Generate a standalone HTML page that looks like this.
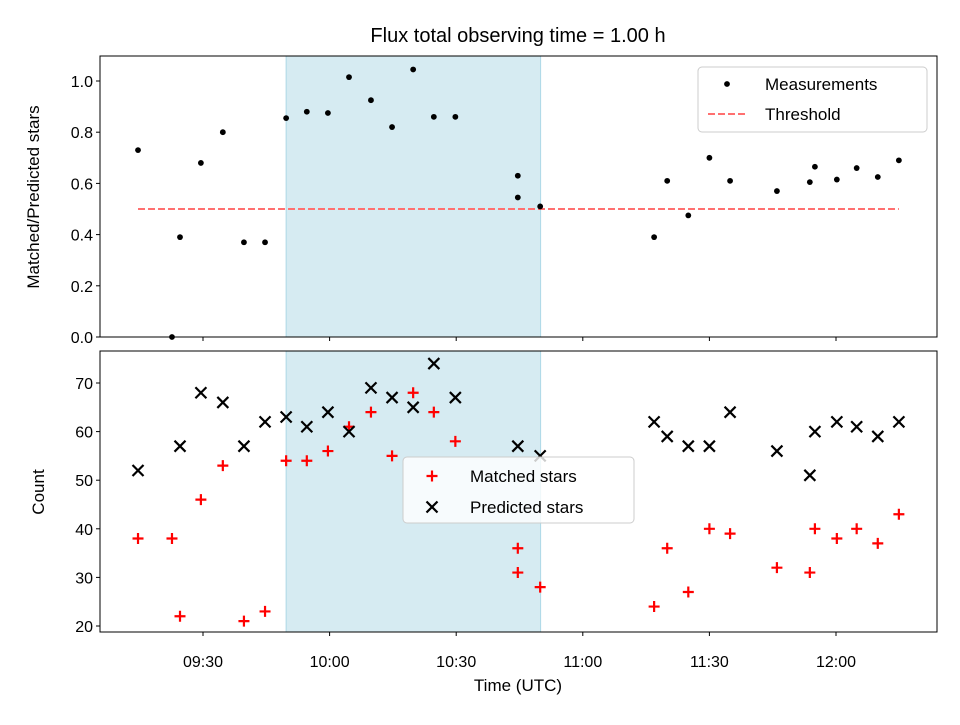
<!DOCTYPE html>
<html><head><meta charset="utf-8"><style>body{margin:0;background:#fff}svg{font-family:"Liberation Sans","DejaVu Sans",sans-serif}</style></head>
<body>
<svg id="c" width="960" height="720" xmlns="http://www.w3.org/2000/svg"></svg>
<script>
const ratioTimes=[14.6,22.65,24.55,29.5,34.7,39.7,44.7,49.7,54.6,59.6,64.6,69.8,74.8,79.8,84.7,89.8,104.6,104.6,109.9,136.9,140,145,150,154.9,166,173.8,175,180.2,184.9,189.9,194.9];
const ratioValues=[0.73,0.0,0.39,0.68,0.80,0.37,0.37,0.855,0.88,0.875,1.015,0.925,0.82,1.045,0.86,0.86,0.63,0.545,0.51,0.39,0.61,0.475,0.70,0.61,0.57,0.605,0.665,0.615,0.66,0.625,0.69];
const matchedTimes=[14.6,22.65,24.55,29.5,34.7,39.7,44.7,49.7,54.6,59.6,64.6,69.8,74.8,79.8,84.7,89.8,104.6,104.6,109.9,136.9,140,145,150,154.9,166,173.8,175,180.2,184.9,189.9,194.9];
const matchedValues=[38,38,22,46,53,21,23,54,54,56,61,64,55,68,64,58,36,31,28,24,36,27,40,39,32,31,40,38,40,37,43];
const predTimes=[14.6,24.55,29.5,34.7,39.7,44.7,49.7,54.6,59.6,64.6,69.8,74.8,79.8,84.7,89.8,104.6,109.9,136.9,140,145,150,154.9,166,173.8,175,180.2,184.9,189.9,194.9];
const predValues=[52,57,68,66,57,62,63,61,64,60,69,67,65,74,67,57,55,62,59,57,57,64,56,51,60,62,61,59,62];
const xTicks=[30,60,90,120,150,180];
const xTickLabels=["09:30","10:00","10:30","11:00","11:30","12:00"];
const topTicks=[0,0.2,0.4,0.6,0.8,1.0];
const botTicks=[20,30,40,50,60,70];
const threshold=0.5, shadeStart=49.7, shadeEnd=110;

const S=document.getElementById('c');
const NS='http://www.w3.org/2000/svg';
function el(t,a,txt){const e=document.createElementNS(NS,t);for(const k in a)e.setAttribute(k,a[k]);if(txt!==undefined)e.textContent=txt;S.appendChild(e);return e;}
const L=100,R=937;
const X=m=>203+(m-30)*4.22;
const Y1=v=>337-v*256;
const Y2=v=>626-(v-20)*4.86;
const panels=[[56,337],[351,632]];
for(const [t,b] of panels){
 const r=el('rect',{x:X(shadeStart),y:t,width:X(shadeEnd)-X(shadeStart),height:b-t,fill:'#add8e6','fill-opacity':0.5,stroke:'#add8e6'});
 
 
}
const th=el('line',{x1:X(ratioTimes[0]),x2:X(ratioTimes[ratioTimes.length-1]),y1:Y1(threshold),y2:Y1(threshold),stroke:'#ff7070','stroke-width':2,'stroke-dasharray':'7,3'});


ratioTimes.forEach((t,i)=>{const c=el('circle',{cx:X(t),cy:Y1(ratioValues[i]),r:2.9,fill:'#000'});

});
matchedTimes.forEach((t,i)=>{const x=X(t),y=Y2(matchedValues[i]);
const g=el('path',{d:`M${x-5.5},${y}H${x+5.5}M${x},${y-5.5}V${y+5.5}`,stroke:'red','stroke-width':2.2});

});
predTimes.forEach((t,i)=>{const x=X(t),y=Y2(predValues[i]);
const g=el('path',{d:`M${x-5.5},${y-5.5}L${x+5.5},${y+5.5}M${x-5.5},${y+5.5}L${x+5.5},${y-5.5}`,stroke:'#000','stroke-width':2.2});

});
for(const [t,b] of panels){
 const f=el('rect',{x:L,y:t,width:R-L,height:b-t,fill:'none',stroke:'#000','stroke-width':1});
 
 
 xTicks.forEach(m=>{el('line',{x1:X(m),x2:X(m),y1:b,y2:b+4,stroke:'#000'});});
}
xTicks.forEach((m,i)=>{const tx=el('text',{x:X(m),y:667,'font-size':16,'text-anchor':'middle'},xTickLabels[i]);

});
topTicks.forEach(v=>{el('line',{x1:L-4,x2:L,y1:Y1(v),y2:Y1(v),stroke:'#000'});
const tx=el('text',{x:L-7,y:Y1(v)+6,'font-size':16,'text-anchor':'end'},v.toFixed(1));

});
botTicks.forEach(v=>{el('line',{x1:L-4,x2:L,y1:Y2(v),y2:Y2(v),stroke:'#000'});
const tx=el('text',{x:L-7,y:Y2(v)+6,'font-size':16,'text-anchor':'end'},String(v));

});
let e;
e=el('text',{x:518,y:42,'font-size':20,'text-anchor':'middle'},'Flux total observing time = 1.00 h');


e=el('text',{x:518,y:691,'font-size':17,'text-anchor':'middle'},'Time (UTC)');


e=el('text',{x:0,y:0,'font-size':17,'text-anchor':'middle',transform:'translate(39,197) rotate(-90)'},'Matched/Predicted stars');


e=el('text',{x:0,y:0,'font-size':17,'text-anchor':'middle',transform:'translate(44,492) rotate(-90)'},'Count');


e=el('rect',{x:698,y:67,width:229,height:65,rx:4,fill:'#fff','fill-opacity':0.8,stroke:'#ccc'});


el('circle',{cx:727,cy:84,r:2.9,fill:'#000'});
e=el('text',{x:765,y:90,'font-size':17},'Measurements');


el('line',{x1:708,x2:748,y1:114,y2:114,stroke:'#ff7070','stroke-width':2,'stroke-dasharray':'7,3'});
e=el('text',{x:765,y:120,'font-size':17},'Threshold');


e=el('rect',{x:403,y:457,width:231,height:66,rx:4,fill:'#fff','fill-opacity':0.8,stroke:'#ccc'});


el('path',{d:'M426.5,476H437.5M432,470.5V481.5',stroke:'red','stroke-width':2.2});
e=el('text',{x:470,y:482,'font-size':17},'Matched stars');


el('path',{d:'M426.5,501.5L437.5,512.5M426.5,512.5L437.5,501.5',stroke:'#000','stroke-width':2.2});
e=el('text',{x:470,y:513,'font-size':17},'Predicted stars');


</script>
</body></html>
